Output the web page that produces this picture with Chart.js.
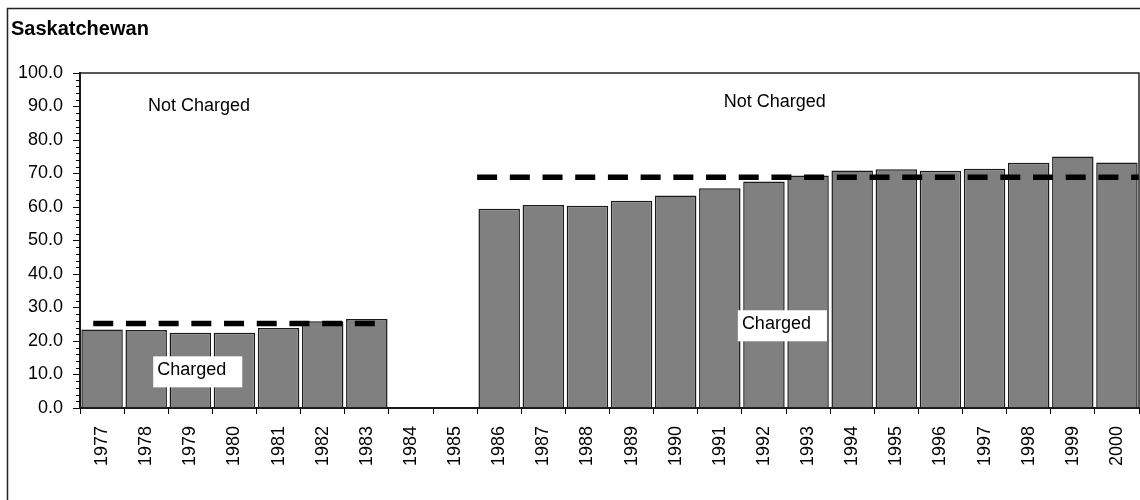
<!DOCTYPE html>
<html>
<head>
<meta charset="utf-8">
<script src="https://cdn.jsdelivr.net/npm/chart.js@4"></script>
<style>
  html, body { margin: 0; padding: 0; background: #fff; }
  #wrap { width: 1140px; height: 500px; position: relative; }
</style>
</head>
<body>
<div id="wrap"><canvas id="saskChart" width="1140" height="500"></canvas></div>
<script>
const years = ["1977", "1978", "1979", "1980", "1981", "1982", "1983", "1984", "1985",
  "1986", "1987", "1988", "1989", "1990", "1991", "1992", "1993", "1994", "1995",
  "1996", "1997", "1998", "1999", "2000"];
const chargedRates = [23.4, 23.3, 22.5, 22.5, 23.9, 25.9, 26.6, null, null,
  59.5, 60.6, 60.4, 61.9, 63.4, 65.6, 67.6, 69.4, 70.9, 71.3,
  70.8, 71.4, 73.2, 75.1, 73.3];

// average lines: start/end position in category units, and level
const earlyAvgSpan = [-0.2, 6.2];
const earlyAvg = 25.2;
const lateAvgSpan = [8.5, 23.5];
const lateAvg = 68.9;

const yTicks = [0, 10, 20, 30, 40, 50, 60, 70, 80, 90, 100];

// text notes placed in category units / value units
const noteTexts = ["Not Charged", "Charged", "Not Charged", "Charged"];
const noteX = [1.04, 1.25, 14.09, 14.5];
const noteY = [88.8, 9.75, 90.0, 23.5];
const noteBoxed = [false, true, false, true];

const FONT = "'Liberation Sans', Arial, Helvetica, sans-serif";

const framePlugin = {
  id: "frame",
  beforeDraw(chart) {
    const ctx = chart.ctx;
    ctx.save();
    ctx.strokeStyle = "#222";
    ctx.lineWidth = 1.5;
    ctx.beginPath();
    ctx.moveTo(7.5, 500);
    ctx.lineTo(7.5, 8.5);
    ctx.lineTo(1140, 8.5);
    ctx.stroke();
    ctx.restore();
  },
  afterDatasetsDraw(chart) {
    const { ctx, chartArea, scales } = chart;
    ctx.save();
    ctx.strokeStyle = "#222";
    ctx.lineWidth = 1.5;
    ctx.strokeRect(chartArea.left, chartArea.top, chartArea.right - chartArea.left, chartArea.bottom - chartArea.top);
    // minor ticks every 2
    ctx.lineWidth = 1;
    ctx.strokeStyle = "#000";
    for (let v = 2; v < 100; v += 2) {
      if (v % 10 === 0) continue;
      const py = Math.round(scales.y.getPixelForValue(v)) + 0.5;
      ctx.beginPath();
      ctx.moveTo(chartArea.left - 4, py);
      ctx.lineTo(chartArea.left, py);
      ctx.stroke();
    }
    ctx.restore();
  },
  afterDraw(chart) {
    const { ctx, scales } = chart;
    ctx.save();
    ctx.font = "18px " + FONT;
    ctx.textAlign = "left";
    ctx.textBaseline = "alphabetic";
    noteTexts.forEach((t, i) => {
      const px = scales.xl.getPixelForValue(noteX[i]);
      const py = scales.y.getPixelForValue(noteY[i]);
      if (noteBoxed[i]) {
        const w = ctx.measureText(t).width;
        ctx.fillStyle = "#fff";
        ctx.fillRect(px - 4, py - 19, w + 20, 31);
      }
      ctx.fillStyle = "#000";
      ctx.fillText(t, px, py);
    });
    ctx.restore();
  }
};

new Chart(document.getElementById("saskChart"), {
  type: "bar",
  data: {
    labels: years,
    datasets: [
      {
        type: "line",
        xAxisID: "xl",
        data: earlyAvgSpan.map((x) => ({ x: x, y: earlyAvg })),
        borderColor: "#000",
        borderWidth: 5.5,
        borderDash: [20, 12.7],
        borderCapStyle: "butt",
        pointRadius: 0,
        order: 0,
      },
      {
        type: "line",
        xAxisID: "xl",
        data: lateAvgSpan.map((x) => ({ x: x, y: lateAvg })),
        borderColor: "#000",
        borderWidth: 5.5,
        borderDash: [20, 12.7],
        borderCapStyle: "butt",
        pointRadius: 0,
        order: 0,
      },
      {
        type: "bar",
        xAxisID: "x",
        data: chargedRates,
        backgroundColor: "#808080",
        borderColor: "#1a1a1a",
        borderWidth: 1.5,
        grouped: false,
        barPercentage: 0.94,
        categoryPercentage: 1,
        order: 1,
      },
    ],
  },
  options: {
    responsive: false,
    animation: false,
    layout: { padding: { left: 11, right: 1, top: 0, bottom: 0 } },
    plugins: {
      legend: { display: false },
      tooltip: { enabled: false },
      title: {
        display: true,
        text: "Saskatchewan",
        align: "start",
        color: "#000",
        font: { family: FONT, size: 20, weight: "bold", lineHeight: 1.2 },
        padding: { top: 17, bottom: 32 },
      },
    },
    scales: {
      x: {
        type: "category",
        offset: true,
        afterFit(scale) {
          scale.height = 92;
          scale.paddingLeft = 0;
          scale.paddingRight = 0;
        },
        border: { display: true, color: "#000", width: 2 },
        grid: { offset: true, drawOnChartArea: false, tickLength: 6, color: "#000", tickColor: "#000" },
        ticks: {
          color: "#000",
          font: { family: FONT, size: 18 },
          minRotation: 90,
          maxRotation: 90,
          padding: 12,
          autoSkip: false,
        },
      },
      xl: {
        type: "linear",
        display: false,
        offset: false,
        grid: { offset: false },
        bounds: "ticks",
        min: -0.5,
        max: 23.5,
      },
      y: {
        min: 0,
        max: 100,
        afterFit(scale) { scale.width = 69; },
        afterBuildTicks(scale) { scale.ticks = yTicks.map((v) => ({ value: v })); },
        border: { display: true, color: "#000", width: 2 },
        grid: { drawOnChartArea: false, tickLength: 7, color: "#000", tickColor: "#000" },
        ticks: {
          color: "#000",
          font: { family: FONT, size: 18 },
          padding: 10,
          callback(value) { return Number(value).toFixed(1); },
        },
      },
    },
  },
  plugins: [framePlugin],
});
</script>
</body>
</html>
